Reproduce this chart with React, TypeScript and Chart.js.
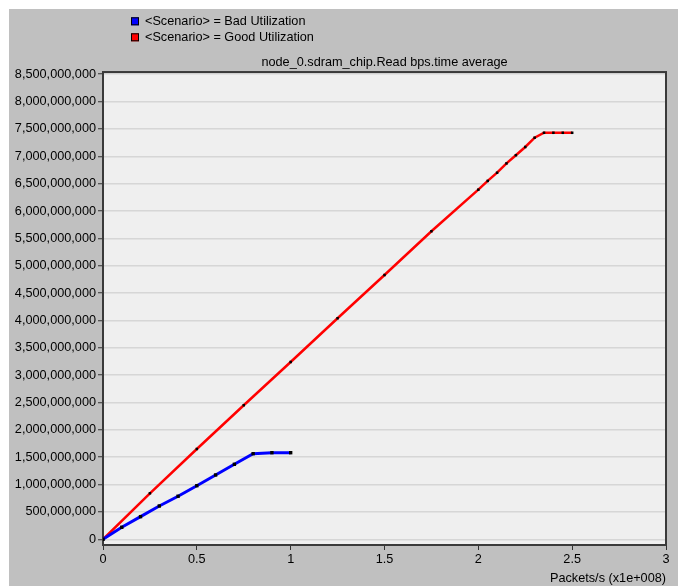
import React, { useEffect, useRef } from "react";
import { Chart, registerables } from "chart.js";

Chart.register(...registerables);

// ---- data ----
const seriesLabels = ["<Scenario> = Bad Utilization", "<Scenario> = Good Utilization"];
const seriesColors = ["#0000ff", "#ff0000"];

const badX = [0, 0.1, 0.2, 0.3, 0.4, 0.5, 0.6, 0.7, 0.8, 0.9, 1.0];
const badY = [0, 0.219e9, 0.413e9, 0.608e9, 0.786e9, 0.979e9, 1.175e9, 1.37e9, 1.564e9, 1.582e9, 1.582e9];

const goodX = [0, 0.25, 0.5, 0.75, 1.0, 1.25, 1.5, 1.75, 2.0, 2.05, 2.1, 2.15, 2.2, 2.25, 2.3, 2.35, 2.4, 2.45, 2.5];
const goodY = [
  0, 0.84e9, 1.65e9, 2.45e9, 3.24e9, 4.04e9, 4.83e9, 5.63e9, 6.39e9, 6.55e9, 6.7e9, 6.87e9, 7.02e9,
  7.17e9, 7.34e9, 7.43e9, 7.43e9, 7.43e9, 7.43e9,
];

const yTicks = [
  0, 5e8, 1e9, 1.5e9, 2e9, 2.5e9, 3e9, 3.5e9, 4e9, 4.5e9, 5e9, 5.5e9, 6e9, 6.5e9, 7e9, 7.5e9, 8e9, 8.5e9,
];
const xTicks = [0, 0.5, 1, 1.5, 2, 2.5, 3];

const chartTitle = "node_0.sdram_chip.Read bps.time average";
const xTitle = "Packets/s (x1e+008)";

const FONT = "'Liberation Sans', Arial, sans-serif";
const FSIZE = 12.7;

const bgPlugin = {
  id: "bgframe",
  beforeDraw(chart: any) {
    const { ctx, chartArea: a } = chart;
    ctx.save();
    ctx.fillStyle = "#c0c0c0";
    ctx.fillRect(0, 0, chart.width, chart.height);
    ctx.fillStyle = "#efefef";
    ctx.fillRect(a.left, a.top, a.right - a.left, a.bottom - a.top);
    ctx.restore();
  },
  beforeDatasetsDraw(chart: any) {
    const { ctx, chartArea: a } = chart;
    ctx.save();
    ctx.strokeStyle = "#3a3a3a";
    ctx.lineWidth = 2;
    ctx.strokeRect(a.left, a.top, a.right - a.left, a.bottom - a.top);
    ctx.restore();
  },
};

const legendPlugin = {
  id: "stackedLegend",
  afterDraw(chart: any) {
    const { ctx } = chart;
    ctx.save();
    ctx.font = `${FSIZE}px ${FONT}`;
    ctx.textBaseline = "middle";
    ctx.textAlign = "left";
    chart.data.datasets.forEach((ds: any, i: number) => {
      const sy = 8.3 + i * 16;
      ctx.fillStyle = ds.borderColor;
      ctx.fillRect(122, sy, 8, 8);
      ctx.strokeStyle = "#000";
      ctx.lineWidth = 1;
      ctx.strokeRect(122.5, sy + 0.5, 7, 7);
      ctx.fillStyle = "#000";
      ctx.fillText(ds.label, 136, sy + 4.3);
    });
    ctx.restore();
  },
};

export default function App() {
  const ref = useRef<HTMLCanvasElement | null>(null);

  useEffect(() => {
    if (!ref.current) return;
    const chart = new Chart(ref.current, {
      type: "line",
      data: {
        datasets: [
          {
            label: seriesLabels[0],
            data: badX.map((x, i) => ({ x, y: badY[i] })),
            borderColor: seriesColors[0],
            backgroundColor: seriesColors[0],
            borderWidth: 3,
            pointStyle: "rect",
            pointRadius: 2.4,
            pointBackgroundColor: "#000",
            pointBorderColor: "#000",
            pointBorderWidth: 0,
            tension: 0,
            fill: false,
          },
          {
            label: seriesLabels[1],
            data: goodX.map((x, i) => ({ x, y: goodY[i] })),
            borderColor: seriesColors[1],
            backgroundColor: seriesColors[1],
            borderWidth: 2.5,
            pointStyle: "rect",
            pointRadius: 1.8,
            pointBackgroundColor: "#000",
            pointBorderColor: "#000",
            pointBorderWidth: 0,
            tension: 0,
            fill: false,
          },
        ],
      },
      options: {
        responsive: false,
        animation: false,
        layout: { padding: { top: 45.4, left: 0, right: 12, bottom: 0 } },
        plugins: {
          legend: { display: false },
          tooltip: { enabled: false },
          title: {
            display: true,
            text: chartTitle,
            fullSize: false,
            position: "top",
            align: "center",
            color: "#000",
            font: { family: FONT, size: FSIZE, weight: "normal" },
            padding: { top: 0, bottom: 2.4 },
          },
        },
        scales: {
          x: {
            type: "linear",
            min: 0,
            max: 3,
            afterBuildTicks: (scale: any) => {
              scale.ticks = xTicks.map((v) => ({ value: v }));
            },
            afterFit: (scale: any) => {
              scale.height = 41;
            },
            ticks: {
              color: "#000",
              font: { family: FONT, size: FSIZE },
              padding: 2,
              maxRotation: 0,
              autoSkip: false,
              callback: (v: any) => String(v),
            },
            grid: {
              drawOnChartArea: false,
              drawTicks: true,
              tickLength: 5,
              tickColor: "#333",
              tickWidth: 1,
            },
            border: { display: false },
            title: {
              display: true,
              text: xTitle,
              align: "end",
              color: "#000",
              font: { family: FONT, size: FSIZE },
              padding: { top: 0, bottom: 0 },
            },
          },
          y: {
            type: "linear",
            min: -0.105e9,
            max: 8.54e9,
            afterBuildTicks: (scale: any) => {
              scale.ticks = yTicks.map((v) => ({ value: v }));
            },
            afterFit: (scale: any) => {
              scale.width = 94;
            },
            ticks: {
              color: "#000",
              font: { family: FONT, size: FSIZE },
              padding: 2,
              autoSkip: false,
              callback: (v: any) => Number(v).toLocaleString("en-US"),
            },
            grid: {
              drawOnChartArea: true,
              drawTicks: true,
              tickLength: 5,
              color: "#d6d6d6",
              lineWidth: 1.5,
              tickColor: "#333",
              tickWidth: 1,
            },
            border: { display: false },
          },
        },
      },
      plugins: [bgPlugin, legendPlugin],
    } as any);
    return () => chart.destroy();
  }, []);

  return (
    <div
      style={{
        position: "fixed",
        left: 9,
        top: 9,
        width: 669,
        height: 577,
        background: "#c0c0c0",
      }}
    >
      <canvas ref={ref} width={669} height={577} style={{ display: "block" }} />
    </div>
  );
}
